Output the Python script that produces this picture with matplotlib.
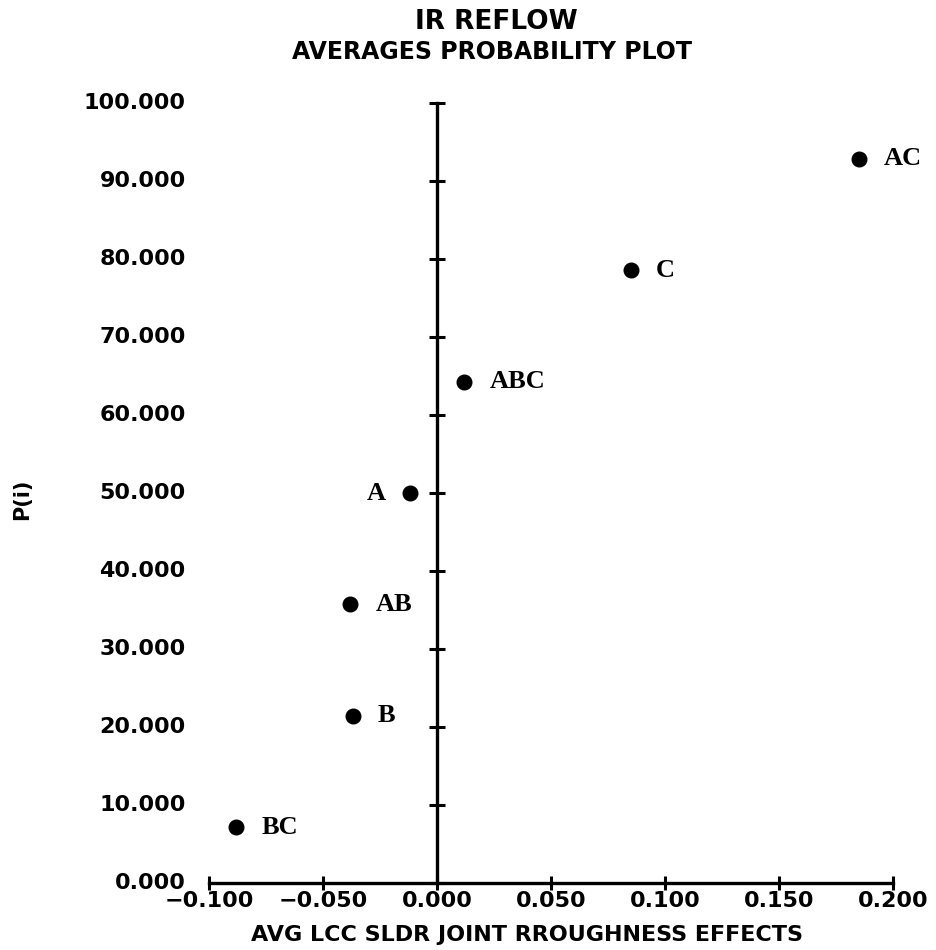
import matplotlib
matplotlib.use('Agg')
import matplotlib.pyplot as plt
import matplotlib.transforms as mtransforms

# data
effects = ['BC', 'B', 'AB', 'A', 'ABC', 'C', 'AC']
effect_vals = [-0.088, -0.037, -0.038, -0.012, 0.012, 0.085, 0.185]
p_vals = [7.143, 21.429, 35.714, 50.0, 64.286, 78.571, 92.857]

x_ticks = [-0.100, -0.050, 0.000, 0.050, 0.100, 0.150, 0.200]
x_tick_labels = ['\u22120.100', '\u22120.050', '0.000', '0.050', '0.100', '0.150', '0.200']
y_ticks = [0, 10, 20, 30, 40, 50, 60, 70, 80, 90, 100]
y_tick_labels = ['%.3f' % v for v in y_ticks]

label_side = {'A': 'left'}

fig = plt.figure(figsize=(9.37, 9.50), dpi=100)
ax = fig.add_axes([0.223, 0.0705, 0.730, 0.821])

ax.plot(effect_vals, p_vals, 'o', color='black', markersize=10.5, clip_on=False)

for name, x, y in zip(effects, effect_vals, p_vals):
	if label_side.get(name) == 'left':
		ax.annotate(name, (x, y), xytext=(-17, 0), textcoords='offset points',
					ha='right', va='center', fontsize=19, fontweight='bold', family='Liberation Serif')
	else:
		ax.annotate(name, (x, y), xytext=(18, 0), textcoords='offset points',
					ha='left', va='center', fontsize=19, fontweight='bold', family='Liberation Serif')

ax.set_xlim(-0.1, 0.2)
ax.set_ylim(0, 100)

ax.spines['top'].set_visible(False)
ax.spines['right'].set_visible(False)
ax.spines['left'].set_position(('data', 0))
ax.spines['left'].set_linewidth(2.4)
ax.spines['bottom'].set_linewidth(2.4)

ax.set_xticks(x_ticks)
ax.set_xticklabels(x_tick_labels, fontsize=16, fontweight='bold')
ax.tick_params(axis='x', direction='inout', length=10, width=2.2, pad=1)

ax.set_yticks(y_ticks)
ax.set_yticklabels([])
ax.tick_params(axis='y', direction='inout', length=12, width=2.2)

# y tick labels sit at the far left, away from the centred spine
trans = mtransforms.blended_transform_factory(ax.transAxes, ax.transData)
for v, lab in zip(y_ticks, y_tick_labels):
	ax.text(-0.034, v, lab, transform=trans, ha='right', va='center',
			fontsize=16, fontweight='bold')

fig.text(0.530, 0.977, 'IR REFLOW', ha='center', va='center', fontsize=19, fontweight='bold')
fig.text(0.525, 0.945, 'AVERAGES PROBABILITY PLOT', ha='center', va='center', fontsize=17, fontweight='bold')
fig.text(0.562, 0.016, 'AVG LCC SLDR JOINT RROUGHNESS EFFECTS', ha='center', va='center',
		 fontsize=16, fontweight='bold')
fig.text(0.0235, 0.474, 'P(i)', ha='center', va='center', rotation=90, fontsize=15, fontweight='bold')

fig.savefig('out.png', dpi=100, facecolor='white')
